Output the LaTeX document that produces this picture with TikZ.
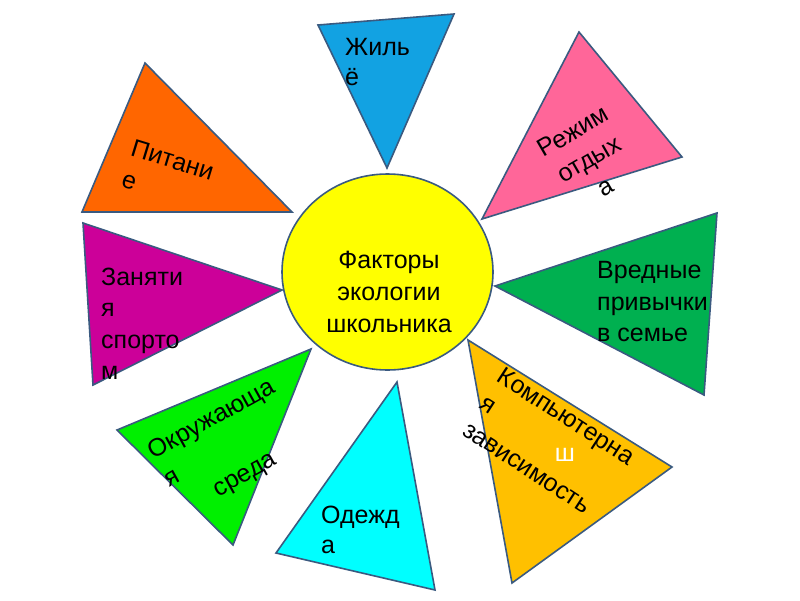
\documentclass[tikz,border=0pt]{standalone}
\usepackage{fontspec}
\setmainfont{Liberation Sans}
\definecolor{edgec}{HTML}{3A5A80}
\definecolor{cblue}{HTML}{12A2E2}
\definecolor{cpink}{HTML}{FF6699}
\definecolor{cgreen}{HTML}{00B050}
\definecolor{camber}{HTML}{FFC000}
\definecolor{ccyan}{HTML}{00FFFF}
\definecolor{clime}{HTML}{00F000}
\definecolor{cmag}{HTML}{CC0099}
\definecolor{corange}{HTML}{FF6600}
\definecolor{cyel}{HTML}{FFFF00}
\begin{document}
\begin{tikzpicture}[x=1pt,y=-1pt,
  tri/.style={draw=edgec, line width=1.6pt, line join=miter},
  lbl/.style={font=\fontsize{25}{32}\selectfont, inner sep=0pt, text=black},
]
\useasboundingbox[fill=white] (0,0) rectangle (800,600);
% triangles
\filldraw[tri, fill=cblue]   (318,25) -- (454,14) -- (387,168) -- cycle;
\filldraw[tri, fill=cpink]   (579,32) -- (682,157) -- (482,219) -- cycle;
\filldraw[tri, fill=cgreen]  (717,213) -- (704,395) -- (495,286) -- cycle;
\filldraw[tri, fill=camber]  (468,340) -- (672,467) -- (512,583) -- cycle;
\filldraw[tri, fill=ccyan]   (397,382) -- (276,553) -- (435,590) -- cycle;
\filldraw[tri, fill=clime]   (311,349) -- (117,430) -- (233,545) -- cycle;
\filldraw[tri, fill=cmag]    (83,223) -- (93,385) -- (282,290) -- cycle;
\filldraw[tri, fill=corange] (145,63) -- (82,212) -- (292,212) -- cycle;
% centre
\filldraw[tri, fill=cyel] (387.5,272) ellipse [x radius=105.5pt, y radius=98pt];
\node[lbl, align=center] (centre) at (389,292) {Факторы\\экологии\\школьника};
% labels
\node[lbl, anchor=base west] (zh1) at (345,55) {Жиль};
\node[lbl, anchor=base west] (zh2) at (345,85) {ё};
\node[lbl, rotate=30, align=center] (re) at (589,159) {Режим\\отдых\\а};
\node[lbl, anchor=base west] (vr1) at (597,278) {Вредные};
\node[lbl, anchor=base west] (vr2) at (597,310) {привычки};
\node[lbl, anchor=base west] (vr3) at (597,341) {в семье};
\node[lbl, rotate=-33, align=left] (ko) at (549,443) {Компьютерна\\я\\зависимость};
\node[lbl, text=white] (ko4) at (565,455) {ш};
\node[lbl, anchor=base west] (od1) at (321,523) {Одежд};
\node[lbl, anchor=base west] (od2) at (321,553) {а};
\node[lbl, rotate=29, align=left] (ok) at (228,448) {Окружающа\\я\\\hspace*{38pt}среда};
\node[lbl, anchor=base west] (za1) at (101,285) {Заняти};
\node[lbl, anchor=base west] (za2) at (101,316) {я};
\node[lbl, anchor=base west] (za3) at (101,348) {спорто};
\node[lbl, anchor=base west] (za4) at (101,379) {м};
\node[lbl, rotate=-17, align=left] (pi) at (168,175) {Питани\\е};
\end{tikzpicture}
\end{document}
